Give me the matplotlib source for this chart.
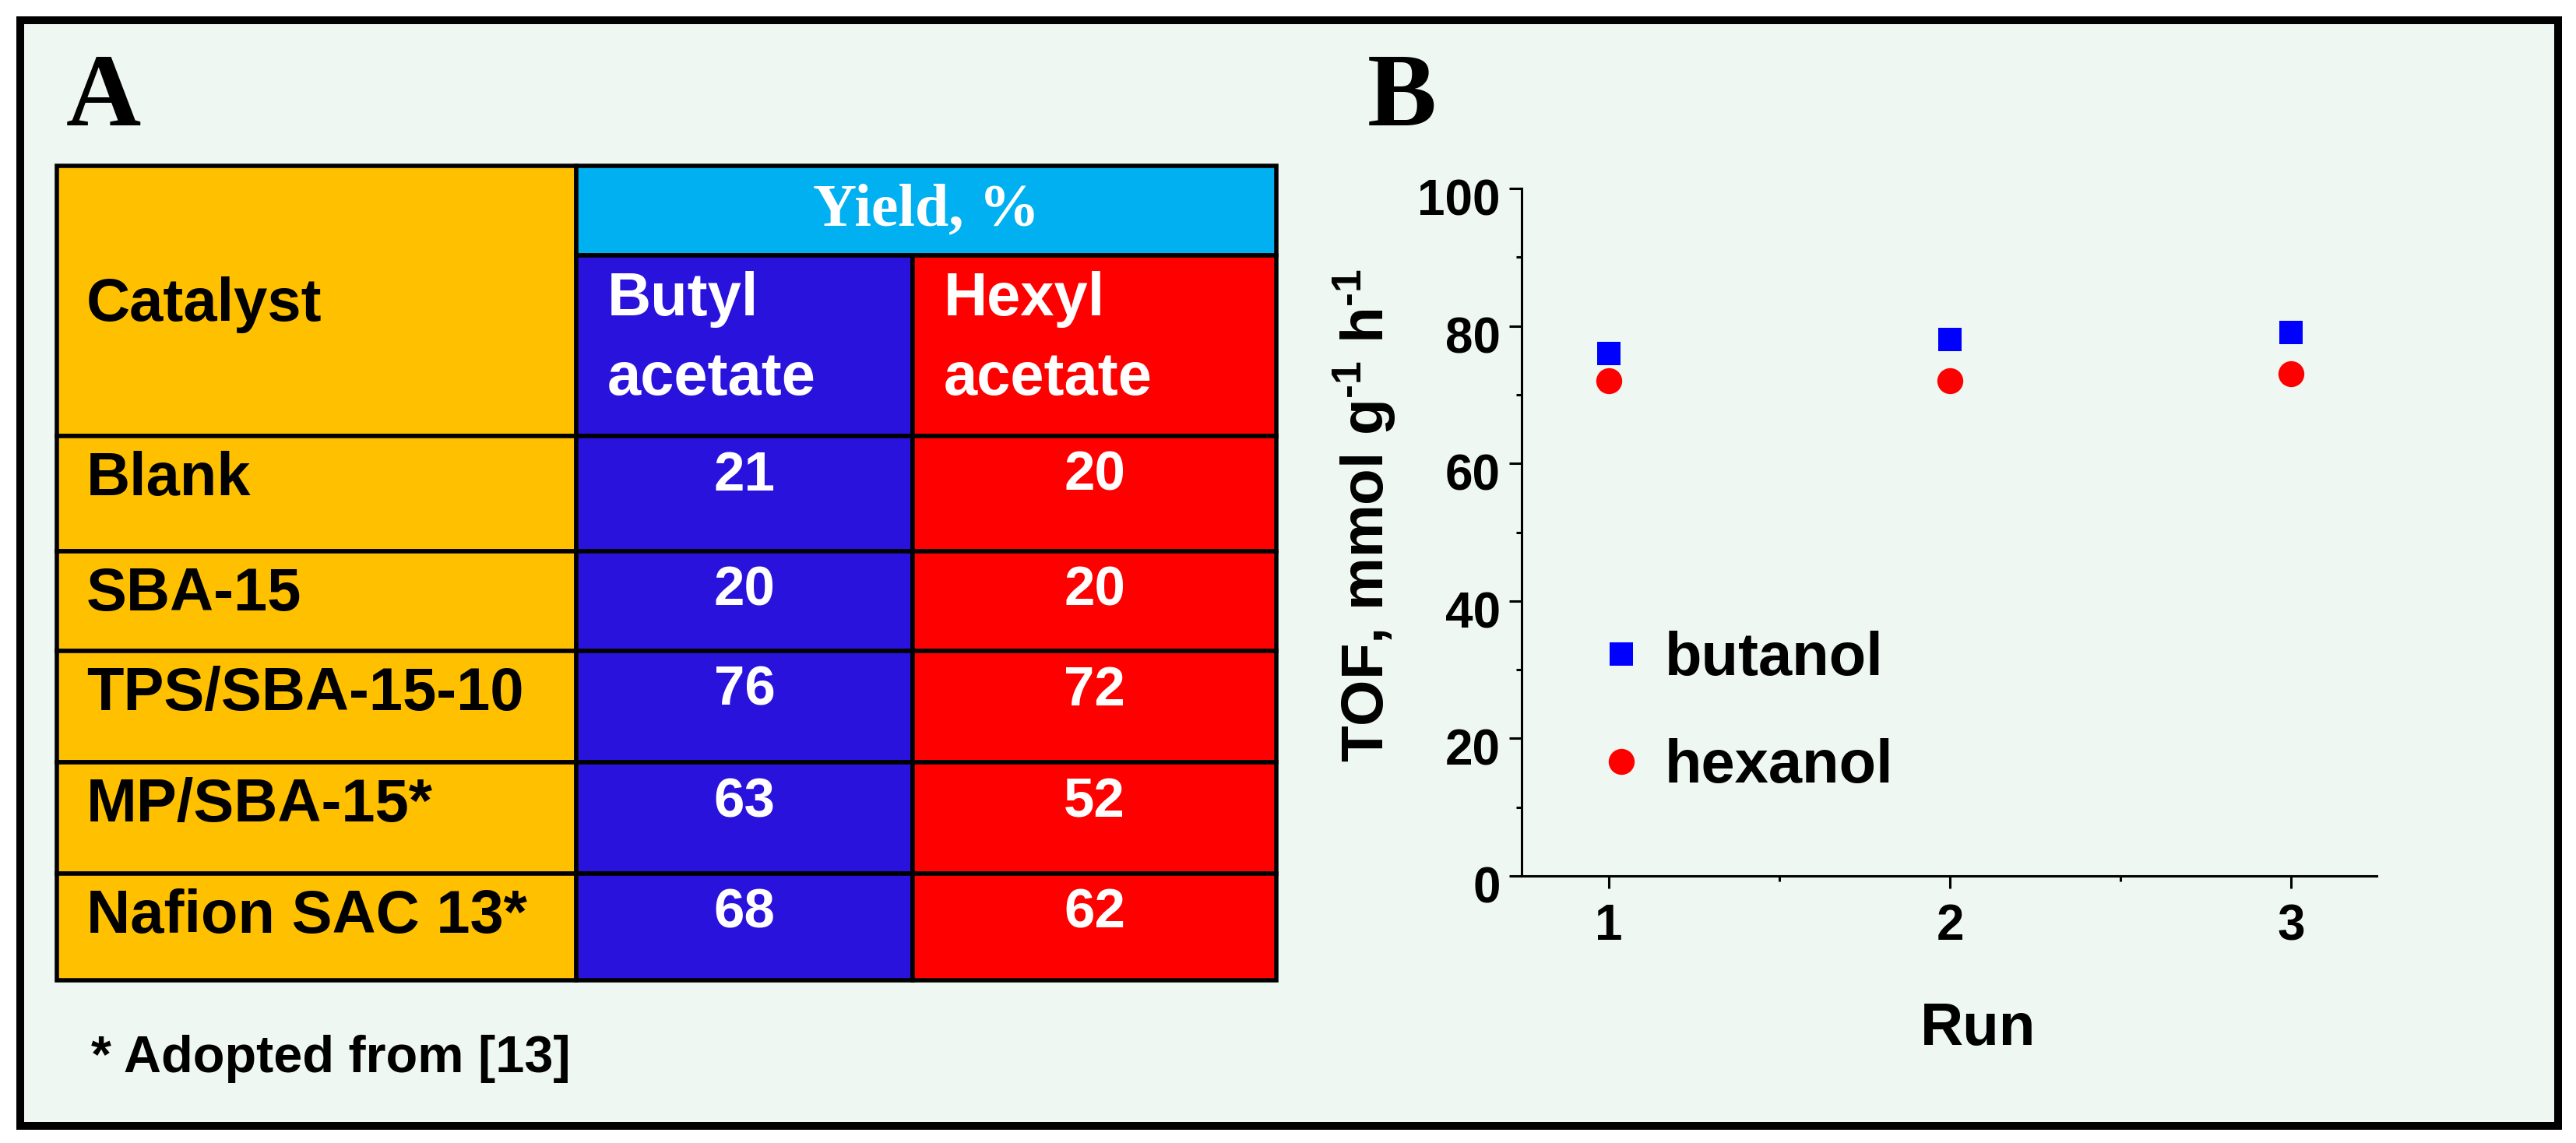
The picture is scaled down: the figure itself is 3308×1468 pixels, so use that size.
import matplotlib
matplotlib.use("Agg")
import matplotlib.pyplot as plt
from matplotlib.patches import Rectangle
from matplotlib.transforms import ScaledTranslation

# ==========================================================
# DATA
# ==========================================================

catalysts = ["Blank", "SBA-15", "TPS/SBA-15-10", "MP/SBA-15*", "Nafion SAC 13*"]
butyl_yield = [21, 20, 76, 63, 68]
hexyl_yield = [20, 20, 72, 52, 62]
header_catalyst = "Catalyst"
header_yield = "Yield, %"
header_cols = [["Butyl", "acetate"], ["Hexyl", "acetate"]]
footnote = "* Adopted from [13]"

runs = [1, 2, 3]
tof_butanol = [76, 78, 79]
tof_hexanol = [72, 72, 73]
y_ticks = [0, 20, 40, 60, 80, 100]

# ==========================================================
# STYLE
# ==========================================================

W, H = 3308, 1468
BG = "#EEF7F2"
C_ORANGE = "#FFC000"
C_SKY = "#00B0F0"
C_BLUE = "#2A12DD"
C_RED = "#FF0000"
SANS = "Liberation Sans"
SERIF = "Liberation Serif"

plt.rcParams["font.family"] = [SANS, "DejaVu Sans"]
plt.rcParams["font.weight"] = "bold"
plt.rcParams["mathtext.fontset"] = "custom"
plt.rcParams["mathtext.rm"] = "Liberation Sans:bold"
plt.rcParams["mathtext.it"] = "Liberation Sans:italic:bold"
plt.rcParams["mathtext.bf"] = "Liberation Sans:bold"

fig = plt.figure(figsize=(W / 100, H / 100), dpi=100)
fig.patch.set_facecolor("white")

# full-figure axes in pixel units for the frame and the table
ax0 = fig.add_axes([0, 0, 1, 1])
ax0.set_xlim(0, W)
ax0.set_ylim(H, 0)
ax0.axis("off")

ax0.add_patch(Rectangle((26, 26), 3259, 1420, facecolor=BG,
                        edgecolor="black", lw=7.2, joinstyle="miter"))

# panel letters
ax0.text(85, 161, "A", fontsize=96, fontweight="bold", family=SERIF, va="baseline")
ax0.text(1756, 161, "B", fontsize=96, fontweight="bold", family=SERIF, va="baseline")

# ==========================================================
# PANEL A - TABLE
# ==========================================================

x_cat, x_but, x_hex, x_end = 73, 740, 1172, 1639
y_top, y_mid = 213, 328
row_edges = [560, 708, 836, 979, 1122, 1259]
LW = 4


def cell(x0, y0, x1, y1, color):
    ax0.add_patch(Rectangle((x0, y0), x1 - x0, y1 - y0, facecolor=color,
                            edgecolor="black", lw=LW))


cell(x_cat, y_top, x_but, row_edges[0], C_ORANGE)
cell(x_but, y_top, x_end, y_mid, C_SKY)
cell(x_but, y_mid, x_hex, row_edges[0], C_BLUE)
cell(x_hex, y_mid, x_end, row_edges[0], C_RED)

ax0.text(111, 412, header_catalyst, fontsize=56, va="baseline")
ax0.text((x_but + x_end) / 2, 289, header_yield, fontsize=56, family=SERIF,
         fontweight="bold", color="white", ha="center", va="baseline")
for x0, lines in zip([x_but, x_hex], header_cols):
    ax0.text(x0 + 40, 405, lines[0], fontsize=56, color="white", va="baseline")
    ax0.text(x0 + 40, 507, lines[1], fontsize=56, color="white", va="baseline")

for i, name in enumerate(catalysts):
    r0, r1 = row_edges[i], row_edges[i + 1]
    cell(x_cat, r0, x_but, r1, C_ORANGE)
    cell(x_but, r0, x_hex, r1, C_BLUE)
    cell(x_hex, r0, x_end, r1, C_RED)
    ax0.text(111, r0 + 76, name, fontsize=56, va="baseline")
    ax0.text((x_but + x_hex) / 2, r0 + 70, str(butyl_yield[i]), fontsize=51,
             color="white", ha="center", va="baseline")
    ax0.text((x_hex + x_end) / 2, r0 + 70, str(hexyl_yield[i]), fontsize=51,
             color="white", ha="center", va="baseline")

ax0.text(117, 1377, footnote, fontsize=48, va="baseline")

# ==========================================================
# PANEL B - TOF vs run
# ==========================================================

left, right, top, bottom = 1954, 3052, 242, 1125
ax = fig.add_axes([left / W, 1 - bottom / H, (right - left) / W, (bottom - top) / H])
ax.set_facecolor("none")

ax.plot(runs, tof_butanol, linestyle="none", marker="s", markersize=21,
        color="#0000FF", markeredgewidth=0, label="butanol", clip_on=False)
ax.plot(runs, tof_hexanol, linestyle="none", marker="o", markersize=24,
        color=C_RED, markeredgewidth=0, label="hexanol", clip_on=False)

ax.set_xlim(0.745, 3.25)
ax.set_ylim(0, 100)
ax.set_xticks(runs)
ax.set_xticks([1.5, 2.5], minor=True)
ax.set_yticks(y_ticks)
ax.set_yticks([10, 30, 50, 70, 90], minor=True)

for s in ["top", "right"]:
    ax.spines[s].set_visible(False)
for s in ["left", "bottom"]:
    ax.spines[s].set_linewidth(2.2)

ax.tick_params(which="major", length=11.5, width=2.2, labelsize=46)
ax.tick_params(which="minor", length=5, width=2.2)
ax.tick_params(axis="y", which="major", pad=8)
ax.tick_params(axis="x", which="major", pad=14)

offset = ScaledTranslation(0, -11 / 100, fig.dpi_scale_trans)
for lab in ax.get_yticklabels():
    lab.set_transform(lab.get_transform() + offset)
    lab.set_fontweight("bold")
for lab in ax.get_xticklabels():
    lab.set_fontweight("bold")

ax.set_ylabel(r"TOF, mmol g$^{\text{-}1}$ h$^{\text{-}1}$", fontsize=55, fontweight="bold")
ax.yaxis.set_label_coords(-0.1448, 0.524)
ax.set_xlabel("Run", fontsize=55, fontweight="bold")
ax.xaxis.set_label_coords(0.534, -0.1835)

ax.legend(loc="upper left", bbox_to_anchor=(2051 / W, 1 - 810 / H),
          bbox_transform=fig.transFigure, frameon=False,
          handlelength=0.8, handletextpad=0.32, labelspacing=0.835,
          borderpad=0, borderaxespad=0, numpoints=1,
          prop={"family": SANS, "weight": "bold", "size": 56})

fig.savefig("out.png", dpi=100, facecolor="white")
